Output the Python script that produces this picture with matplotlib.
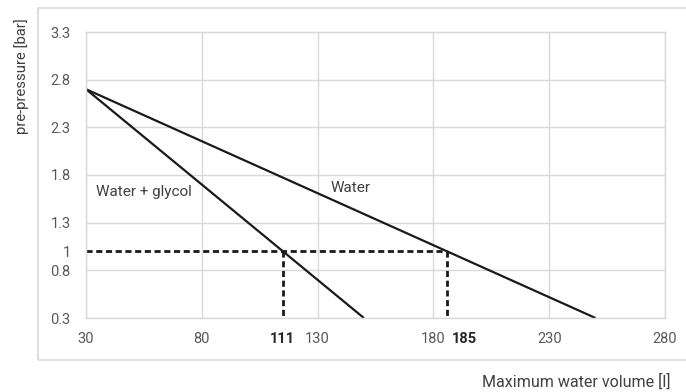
import matplotlib
matplotlib.use("Agg")
import matplotlib.pyplot as plt
from matplotlib.patches import Rectangle

plt.rcParams['font.family'] = ['Roboto', 'DejaVu Sans']

# Data
water_x = [30, 250]
water_y = [2.7, 0.3]
glycol_x = [30, 150]
glycol_y = [2.7, 0.3]
ref_pressure = 1.0
glycol_ref_x = 115
water_ref_x = 186
ref_labels = ["111", "185"]
ref_label_x = [115, 193.5]
x_ticks = [30, 80, 130, 180, 230, 280]
y_ticks = [0.3, 0.8, 1.3, 1.8, 2.3, 2.8, 3.3]
y_extra_tick = [1.0]
y_extra_label = ["1"]

grid_c = '#d9d9d9'
tick_c = '#595959'
line_c = '#1a1a1a'
tick_fs = 10.5

fig = plt.figure(figsize=(6.86, 3.92), dpi=100)
fig.patches.append(Rectangle((38/686, 1-360/392), 1.0, (360-8)/392,
                             transform=fig.transFigure, fill=False,
                             edgecolor=grid_c, linewidth=1.2))
ax = fig.add_axes([86/686, 1-318/392, (665-86)/686, (318-32)/392])

ax.plot(water_x, water_y, color=line_c, lw=1.6, solid_capstyle='butt')
ax.plot(glycol_x, glycol_y, color=line_c, lw=1.6, solid_capstyle='butt')

dash = dict(color=line_c, lw=2.0, ls=(0, (2.2, 1.3)))
ax.plot([x_ticks[0], water_ref_x], [ref_pressure, ref_pressure], **dash)
ax.plot([glycol_ref_x, glycol_ref_x], [ref_pressure, y_ticks[0]], **dash)
ax.plot([water_ref_x, water_ref_x], [ref_pressure, y_ticks[0]], **dash)

ax.set_xlim(x_ticks[0], x_ticks[-1])
ax.set_ylim(y_ticks[0], y_ticks[-1])
ax.set_xticks(x_ticks)
ax.set_xticklabels([str(v) for v in x_ticks])
ax.set_yticks(y_ticks)
ax.set_yticklabels([f"{v:g}" for v in y_ticks])
ax.set_yticks(y_extra_tick, minor=True)
ax.set_yticklabels(y_extra_label, minor=True)
ax.tick_params(axis='both', which='both', length=0, labelsize=tick_fs, labelcolor=tick_c)
ax.tick_params(axis='x', pad=10)
ax.tick_params(axis='y', which='both', pad=11)
ax.grid(True, which='major', color=grid_c, lw=1.0)
ax.set_axisbelow(True)
for s in ax.spines.values():
    s.set_color(grid_c)
    s.set_linewidth(1.0)

for lab, xv in zip(ref_labels, ref_label_x):
    ax.annotate(lab, xy=(xv, y_ticks[0]), xycoords='data',
                xytext=(0, -10), textcoords='offset points',
                ha='center', va='top', fontsize=tick_fs, fontweight='bold', color='#262626')

ax.text(34.3, 1.62, "Water + glycol", fontsize=11, color='#404040', va='center', ha='left')
ax.text(135.4, 1.66, "Water", fontsize=11, color='#404040', va='center', ha='left')

fig.text(22/686, 1-76/392, "pre-pressure [bar]", rotation=90, ha='center', va='center',
         fontsize=10.7, color='#404040')
fig.text(670/686, 1-382/392, "Maximum water volume [l]", ha='right', va='center',
         fontsize=11.5, color='#404040')

fig.savefig("out.png", dpi=100)
